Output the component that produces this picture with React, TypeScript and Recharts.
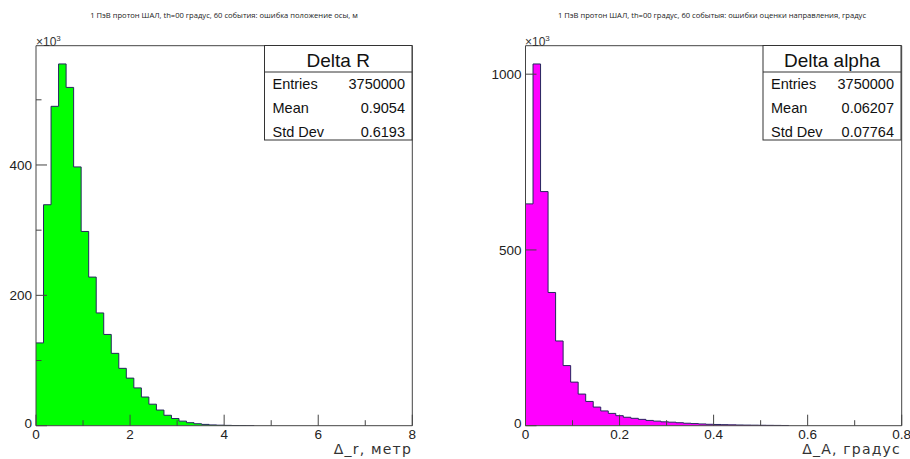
import React from "react";
import { ComposedChart, Area, XAxis, YAxis, ReferenceArea } from "recharts";

// Delta R histogram: 50 bins over 0..8, counts in units of 10^3
const R_BIN_WIDTH = 0.16;
const R_COUNTS = [127, 339, 490, 555, 519, 397, 298, 228, 173, 140, 111, 88, 73, 58, 44, 33, 24, 16, 11, 7, 4.6, 3, 2, 1.2, 0.8, 0.5, 0.3, 0.2, 0.1];
const R_XTICKS = [0, 1, 2, 3, 4, 5, 6, 7, 8];
const R_XLABELS = [0, 2, 4, 6, 8];
const R_YTICKS = [0, 100, 200, 300, 400, 500];
const R_YLABELS = [0, 200, 400];
const R_YMAX = 583;
const R_STATS = [["Entries", "3750000"], ["Mean", "0.9054"], ["Std Dev", "0.6193"]];

// Delta alpha histogram: 50 bins over 0..0.8
const A_BIN_WIDTH = 0.016;
const A_COUNTS = [631, 1029, 666, 379, 241, 171, 124, 90, 69, 53, 42, 35, 28.5, 24, 21, 18, 15, 13, 11, 10, 8.5, 7, 6, 5, 4, 3.5, 3, 2.5, 2, 1.7, 1.5, 1.2, 1, 0.8, 0.6];
const A_XTICKS = [0, 0.1, 0.2, 0.3, 0.4, 0.5, 0.6, 0.7, 0.8];
const A_XLABELS = [0, 0.2, 0.4, 0.6, 0.8];
const A_YTICKS = [0, 500, 1000];
const A_YLABELS = [0, 500, 1000];
const A_YMAX = 1081;
const A_STATS = [["Entries", "3750000"], ["Mean", "0.06207"], ["Std Dev", "0.07764"]];

const TITLE_R = "1 ПэВ протон ШАЛ, th=00 градус, 60 события: ошибка положение осы, м";
const TITLE_A = "1 ПэВ протон ШАЛ, th=00 градус, 60 событыя: ошибки оценки направления, градус";

const AXIS = "#444";
const LINE = "#26265e";
const TM = 4;
const SANS = "'Liberation Sans', Arial, sans-serif";

function toSteps(counts: number[], w: number) {
  const pts = counts.map((c, i) => ({ x: i * w, y: c }));
  pts.push({ x: counts.length * w, y: counts[counts.length - 1] });
  return pts;
}

const has = (arr: number[], v: number) => arr.some(a => Math.abs(a - v) < 1e-9);

function XTick(props: any) {
  const { x, y, payload, labels } = props;
  const v = payload.value;
  const major = has(labels, v);
  const ay = y - TM;
  return (
    <g>
      <line x1={x} x2={x} y1={ay} y2={ay - (major ? 11 : 5.5)} stroke={AXIS} />
      {major && (
        <text x={x} y={ay + 13.5} textAnchor="middle" fontSize={13.5} fontFamily={SANS} fill="#222">{String(v)}</text>
      )}
    </g>
  );
}

function YTick(props: any) {
  const { x, y, payload, labels } = props;
  const v = payload.value;
  const major = has(labels, v);
  const ax = x + TM;
  return (
    <g>
      <line x1={ax} x2={ax + (major ? 11 : 5.5)} y1={y} y2={y} stroke={AXIS} />
      {major && (
        <text x={ax - 4} y={v === 0 ? y - 2 : y} dy="0.35em" textAnchor="end" fontSize={13.5} fontFamily={SANS} fill="#222">{String(v)}</text>
      )}
    </g>
  );
}

function Hist({ counts, w, xmax, ymax, xticks, xlabels, yticks, ylabels, fill, width, yw, right }: any) {
  const data = toSteps(counts, w);
  return (
    <ComposedChart width={width} height={459} data={data} margin={{ top: 45.7, right, bottom: 0, left: 0 }}>
      <XAxis dataKey="x" type="number" domain={[0, xmax]} ticks={xticks} interval={0} height={33.3}
        axisLine={false} tickLine={false} tickSize={0} tickMargin={TM} allowDataOverflow
        tick={<XTick labels={xlabels} />} />
      <YAxis type="number" domain={[0, ymax]} ticks={yticks} interval={0} width={yw}
        axisLine={false} tickLine={false} tickSize={0} tickMargin={TM} allowDataOverflow
        tick={<YTick labels={ylabels} />} />
      <Area dataKey="y" type="stepAfter" fill={fill} fillOpacity={1} stroke={LINE} strokeWidth={1} isAnimationActive={false} dot={false} activeDot={false} />
      <ReferenceArea x1={0} x2={xmax} y1={0} y2={ymax} fill="none" fillOpacity={0} stroke={AXIS} strokeWidth={1} />
    </ComposedChart>
  );
}

function StatBox({ x, y, w, title, rows }: { x: number; y: number; w: number; title: string; rows: string[][] }) {
  return (
    <g fontFamily={SANS} fill="#111">
      <rect x={x} y={y} width={w} height={94.5} fill="#fff" stroke="#333" />
      <line x1={x} x2={x + w} y1={y + 26.5} y2={y + 26.5} stroke="#333" />
      <text x={x + w / 2} y={y + 21} textAnchor="middle" fontSize={19}>{title}</text>
      {rows.map((r, i) => (
        <g key={r[0]}>
          <text x={x + 8} y={y + 43 + i * 24.2} fontSize={14.5}>{r[0]}</text>
          <text x={x + w - 7} y={y + 43 + i * 24.2} textAnchor="end" fontSize={14.5}>{r[1]}</text>
        </g>
      ))}
    </g>
  );
}

export default function App() {
  return (
    <div style={{ position: "absolute", left: 0, top: 0, width: 910, height: 459, background: "#fff", overflow: "hidden" }}>
      <div style={{ position: "absolute", left: 0, top: 0 }}>
        <Hist counts={R_COUNTS} w={R_BIN_WIDTH} xmax={8} ymax={R_YMAX} xticks={R_XTICKS} xlabels={R_XLABELS}
          yticks={R_YTICKS} ylabels={R_YLABELS} fill="#00ff00" width={420} yw={36} right={7.7} />
      </div>
      <div style={{ position: "absolute", left: 455, top: 0 }}>
        <Hist counts={A_COUNTS} w={A_BIN_WIDTH} xmax={0.8} ymax={A_YMAX} xticks={A_XTICKS} xlabels={A_XLABELS}
          yticks={A_YTICKS} ylabels={A_YLABELS} fill="#ff00ff" width={455} yw={70.5} right={8.3} />
      </div>
      <svg width={910} height={459} style={{ position: "absolute", left: 0, top: 0, pointerEvents: "none" }}>
        <text x={224} y={18} textAnchor="middle" fontSize={7.6} fontFamily="'Open Sans', sans-serif" fill="#222">{TITLE_R}</text>
        <text x={712} y={18} textAnchor="middle" fontSize={7.6} fontFamily="'Open Sans', sans-serif" fill="#222">{TITLE_A}</text>

        <text x={36} y={46} fontSize={12} fontFamily={SANS} fill="#333">×10<tspan dy={-5} fontSize={8}>3</tspan></text>
        <text x={525} y={46} fontSize={12} fontFamily={SANS} fill="#333">×10<tspan dy={-5} fontSize={8}>3</tspan></text>

        <StatBox x={264.5} y={45.5} w={147.5} title="Delta R" rows={R_STATS} />
        <StatBox x={763} y={45.5} w={138} title="Delta alpha" rows={A_STATS} />

        <text x={412} y={453.5} textAnchor="end" fontSize={14} letterSpacing={1.2} fontFamily="'DejaVu Sans', sans-serif" fill="#333">Δ_r, метр</text>
        <text x={901} y={453.5} textAnchor="end" fontSize={14} letterSpacing={1.2} fontFamily="'DejaVu Sans', sans-serif" fill="#333">Δ_A, градус</text>
      </svg>
    </div>
  );
}
